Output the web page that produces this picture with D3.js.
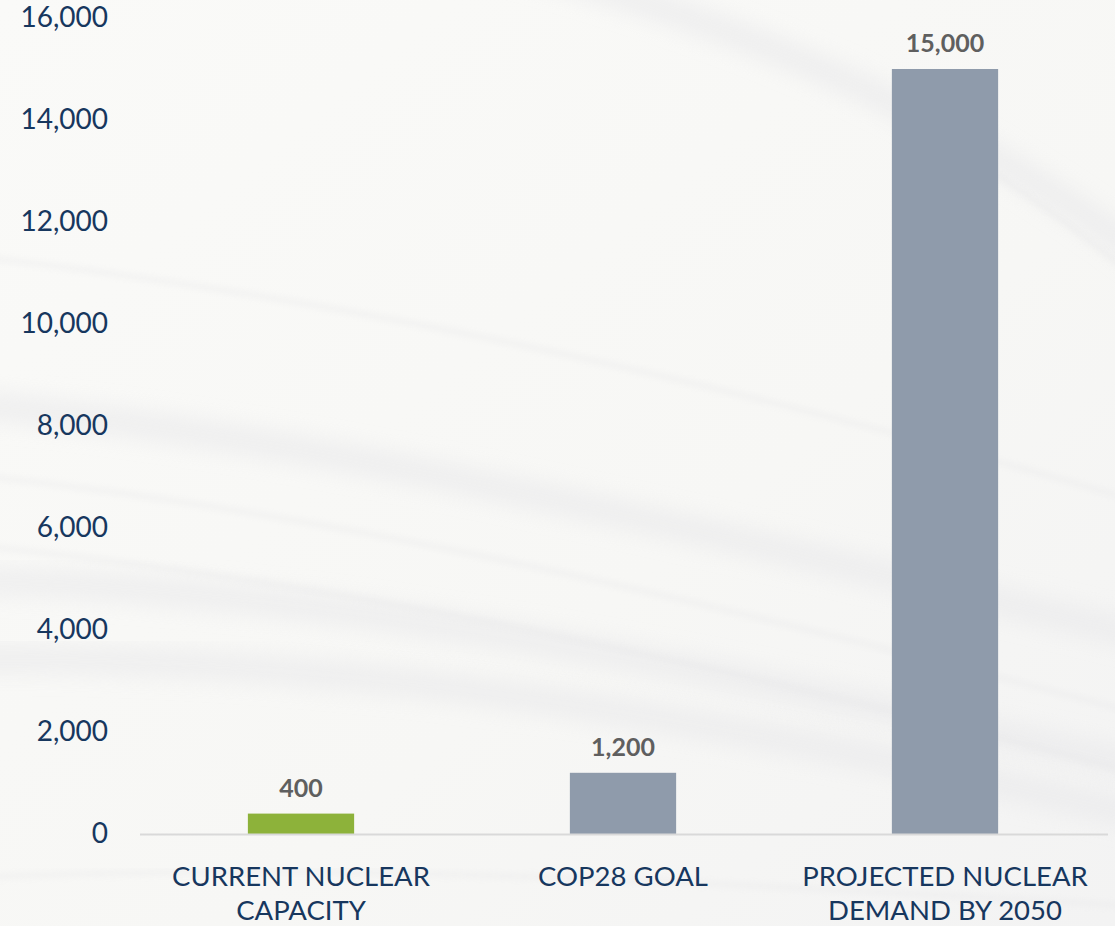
<!DOCTYPE html>
<html>
<head>
<meta charset="utf-8">
<script src="https://cdn.jsdelivr.net/npm/d3@7"></script>
<style>
  html, body { margin: 0; padding: 0; background: #f8f8f6; }
  svg { display: block; }
</style>
</head>
<body>
<div id="chart"></div>
<script>
// DATA
const categories = [["CURRENT NUCLEAR", "CAPACITY"], ["COP28 GOAL"], ["PROJECTED NUCLEAR", "DEMAND BY 2050"]];
const values = [400, 1200, 15000];
const barColors = ["#8db23a", "#8f9bab", "#8f9bab"];
const yTicks = [0, 2000, 4000, 6000, 8000, 10000, 12000, 14000, 16000];

const w = 1115;
const h = 926;
const margin = { top: 18, right: 9, bottom: 92, left: 140 };

const svg = d3.select("#chart")
  .append("svg")
  .attr("width", w)
  .attr("height", h);

// BACKGROUND (faint drapery swooshes)
const defs = svg.append("defs");
const grad = defs.append("linearGradient").attr("id", "bg").attr("x1", 0).attr("y1", 0).attr("x2", 1).attr("y2", 1);
grad.append("stop").attr("offset", "0%").attr("stop-color", "#fafaf8");
grad.append("stop").attr("offset", "60%").attr("stop-color", "#f7f7f5");
grad.append("stop").attr("offset", "100%").attr("stop-color", "#f3f3f3");
defs.append("filter").attr("id", "blur").append("feGaussianBlur").attr("stdDeviation", 10);
defs.append("filter").attr("id", "blur2").append("feGaussianBlur").attr("stdDeviation", 3);

svg.append("rect").attr("width", w).attr("height", h).attr("fill", "url(#bg)");

const swoosh = svg.append("g").attr("fill", "none");
const broad = [
  "M-80,580 C250,580 650,650 1200,780",
  "M-80,660 C300,650 700,710 1200,830",
  "M500,-40 C800,40 1000,140 1200,300",
  "M-80,400 C300,430 700,530 1200,650"
];
swoosh.selectAll("path.broad").data(broad).enter().append("path")
  .attr("class", "broad")
  .attr("d", d => d)
  .attr("stroke", "#e8e8ea")
  .attr("stroke-width", 30)
  .attr("opacity", 0.55)
  .attr("filter", "url(#blur)");
const fine = [
  "M-80,470 C250,500 600,570 1200,730",
  "M-80,540 C250,570 600,630 1200,790",
  "M-80,250 C300,290 700,370 1200,520",
  "M900,120 C1000,170 1080,230 1200,330",
  "M-80,880 C300,860 700,880 1200,910"
];
swoosh.selectAll("path.fine").data(fine).enter().append("path")
  .attr("class", "fine")
  .attr("d", d => d)
  .attr("stroke", "#e4e4e6")
  .attr("stroke-width", 5)
  .attr("opacity", 0.35)
  .attr("filter", "url(#blur2)");

// SCALES
const x = d3.scaleBand()
  .domain(d3.range(values.length))
  .range([margin.left, w - margin.right])
  .paddingInner(0.67)
  .paddingOuter(0.335);

const y = d3.scaleLinear()
  .domain([0, 16000])
  .range([h - margin.bottom, margin.top]);

// Y AXIS
const yAxis = d3.axisLeft(y)
  .tickValues(yTicks)
  .tickFormat(d3.format(","))
  .tickSize(0)
  .tickPadding(0);

const yG = svg.append("g")
  .attr("transform", "translate(108,0)")
  .call(yAxis);
yG.select(".domain").remove();
yG.selectAll("text")
  .attr("fill", "#17375e")
  .style("font-family", "Lato, 'Open Sans', sans-serif")
  .style("font-size", "28px");

// BARS
svg.selectAll("rect.bar")
  .data(values)
  .enter()
  .append("rect")
  .attr("class", "bar")
  .attr("x", (d, i) => x(i))
  .attr("y", d => y(d))
  .attr("width", x.bandwidth())
  .attr("height", d => y(0) - y(d))
  .attr("fill", (d, i) => barColors[i]);

// BASELINE
svg.append("line")
  .attr("x1", margin.left)
  .attr("x2", w - margin.right + 2)
  .attr("y1", y(0) + 0.5)
  .attr("y2", y(0) + 0.5)
  .attr("stroke", "#d9d9d9")
  .attr("stroke-width", 2);

// VALUE LABELS
svg.selectAll("text.value")
  .data(values)
  .enter()
  .append("text")
  .attr("class", "value")
  .attr("x", (d, i) => x(i) + x.bandwidth() / 2)
  .attr("y", d => y(d) - 17)
  .attr("text-anchor", "middle")
  .attr("fill", "#5f5f5f")
  .style("font-family", "Lato, 'Open Sans', sans-serif")
  .style("font-weight", "bold")
  .style("font-size", "25px")
  .text(d => d3.format(",")(d));

// CATEGORY LABELS
const catG = svg.selectAll("text.cat")
  .data(categories)
  .enter()
  .append("text")
  .attr("class", "cat")
  .attr("x", (d, i) => x(i) + x.bandwidth() / 2)
  .attr("y", 886)
  .attr("text-anchor", "middle")
  .attr("fill", "#17375e")
  .style("font-family", "Lato, 'Open Sans', sans-serif")
  .style("font-size", "27.5px");

catG.selectAll("tspan")
  .data(d => d)
  .enter()
  .append("tspan")
  .attr("x", function () { return d3.select(this.parentNode).attr("x"); })
  .attr("dy", (d, i) => i === 0 ? 0 : 34)
  .text(d => d);
</script>
</body>
</html>
